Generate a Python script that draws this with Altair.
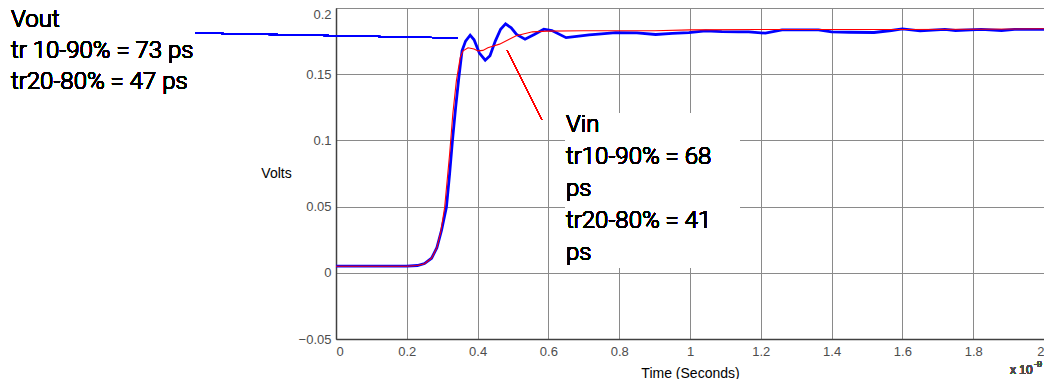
import altair as alt
import pandas as pd

# Vout (blue) trace, time in ns, volts
vout_t = [0, 0.2, 0.23, 0.25, 0.27, 0.285, 0.298, 0.312, 0.321, 0.329, 0.338, 0.347, 0.356,
          0.366, 0.379, 0.39, 0.405, 0.4215, 0.435, 0.45, 0.465, 0.479, 0.495, 0.51, 0.534,
          0.56, 0.587, 0.61, 0.65, 0.68, 0.715, 0.75, 0.79, 0.85, 0.903, 0.95, 0.997, 1.044,
          1.09, 1.138, 1.166, 1.213, 1.26, 1.363, 1.4, 1.45, 1.52, 1.569, 1.6, 1.65, 1.72,
          1.75, 1.823, 1.88, 1.917, 2.0]
vout_v = [0.005, 0.005, 0.0055, 0.007, 0.011, 0.019, 0.032, 0.0496, 0.075, 0.100, 0.125, 0.1475, 0.1676,
          0.175, 0.1795, 0.176, 0.166, 0.1606, 0.164, 0.175, 0.184, 0.188, 0.185, 0.180, 0.1764,
          0.180, 0.184, 0.183, 0.1776, 0.1785, 0.1797, 0.1805, 0.1814, 0.1812, 0.180, 0.1808, 0.1814, 0.1827,
          0.1822, 0.182, 0.182, 0.181, 0.1835, 0.1835, 0.182, 0.1817, 0.1815, 0.183, 0.1842, 0.1827, 0.1838,
          0.183, 0.1838, 0.183, 0.1838, 0.1838]

# Vin (red) trace
vin_t = [0, 0.2, 0.23, 0.25, 0.27, 0.285, 0.296, 0.307, 0.321, 0.330, 0.340, 0.351, 0.359,
         0.373, 0.39, 0.401, 0.415, 0.429, 0.462, 0.509, 0.555, 0.597, 0.7, 0.8, 0.9, 1.0,
         1.2, 1.4, 1.6, 1.8, 2.0]
vin_v = [0.005, 0.005, 0.0055, 0.0068, 0.011, 0.019, 0.031, 0.0496, 0.0898, 0.12, 0.145, 0.1626, 0.1676,
         0.170, 0.169, 0.1676, 0.168, 0.170, 0.1727, 0.179, 0.182, 0.1825, 0.1828, 0.1828, 0.1828, 0.1835,
         0.1838, 0.1838, 0.1838, 0.184, 0.1843]

x_ticks = [0, 0.2, 0.4, 0.6, 0.8, 1.0, 1.2, 1.4, 1.6, 1.8, 2.0]
y_ticks = [-0.05, 0, 0.05, 0.1, 0.15, 0.2]

vout_lines = ["Vout", "tr 10-90% = 73 ps", "tr20-80% = 47 ps"]
vin_lines = ["Vin", "tr10-90% = 68", "ps", "tr20-80% = 41", "ps"]
x_title = "Time (Seconds)"
y_title = "Volts"
exp_base = "x 10"
exp_power = "-9"

vout_df = pd.DataFrame({"t": vout_t, "v": vout_v})
vin_df = pd.DataFrame({"t": vin_t, "v": vin_v})

x_enc = alt.X("t:Q", scale=alt.Scale(domain=[0, 2], nice=False),
              axis=alt.Axis(values=x_ticks, format="~g", title=x_title,
                            titleY=34, titleBaseline="middle"))
y_enc = alt.Y("v:Q", scale=alt.Scale(domain=[-0.05, 0.2], nice=False),
              axis=alt.Axis(values=y_ticks, format="~g", title=y_title,
                            titleAngle=0, titleX=-60, titleY=165,
                            titleAlign="center", titleBaseline="middle",
                            labelBaseline={"condition": {"test": "datum.value >= 0.19", "value": "top"},
                                           "value": "middle"}))

blue = alt.Chart(vout_df).mark_line(color="#0000ff", strokeWidth=2.8, clip=True).encode(x=x_enc, y=y_enc)
red = alt.Chart(vin_df).mark_line(color="#ff0000", strokeWidth=1.1, clip=True).encode(x=x_enc, y=y_enc)

box = alt.Chart(vin_df).mark_rect(color="white").encode(
    x=alt.value(229), x2=alt.value(404), y=alt.value(105), y2=alt.value(260))

vout_conn = alt.Chart(vout_df).mark_rule(color="#0000ff", strokeWidth=1.2).encode(
    x=alt.value(-141), x2=alt.value(122), y=alt.value(25), y2=alt.value(30))
vin_conn = alt.Chart(vin_df).mark_rule(color="#ff0000", strokeWidth=1).encode(
    x=alt.value(171), x2=alt.value(206), y=alt.value(42), y2=alt.value(112))


def text_layer(txt, x, y, size=24, font="Roboto", color="black", weight=300):
    return alt.Chart(vin_df).mark_text(
        align="left", baseline="alphabetic", font=font, fontSize=size,
        fontWeight=weight, color=color).encode(
        x=alt.value(x), y=alt.value(y), text=alt.value(txt))


vout_texts = [text_layer(s, -325, 19 + 31 * i) for i, s in enumerate(vout_lines)]
vin_texts = [text_layer(s, 230, 124 + 32 * i) for i, s in enumerate(vin_lines)]

exp1 = text_layer(exp_base, 674, 366, size=12, font="Liberation Sans", color="#4d4d4d", weight=400)
exp2 = text_layer(exp_power, 698, 359, size=9, font="Liberation Sans", color="#4d4d4d", weight=400)

chart = alt.layer(box, blue, red, vout_conn, vin_conn, *vout_texts, *vin_texts, exp1, exp2).properties(
    width=708, height=331,
    padding={"left": 328, "top": 0, "right": 0, "bottom": 40},
    autosize="none",
).configure_view(stroke="#404040", strokeWidth=1).configure_axis(
    grid=True, gridColor="#8a8a8a", gridWidth=1, gridOpacity=1,
    domainColor="#404040", domainWidth=1.5, ticks=False,
    labelFont="Liberation Sans", labelFontSize=13, labelColor="#4d4d4d", labelPadding=5,
    titleFont="Liberation Sans", titleFontSize=14, titleFontWeight="normal", titleColor="black",
).configure_axisX(labelPadding=6)

chart.save("out.html", embed_options={"renderer": "svg", "actions": False})
